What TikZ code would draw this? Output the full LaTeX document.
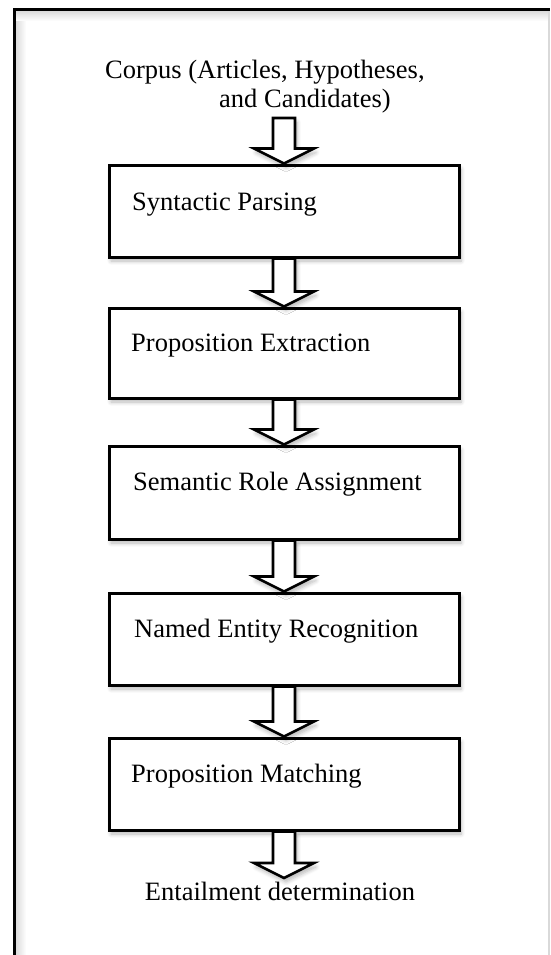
\documentclass[tikz,border=0pt]{standalone}
\usepackage{fontspec}
\setmainfont{Liberation Serif}
\usetikzlibrary{calc,shadows.blur}
\tikzset{
  softshadow/.style={blur shadow={shadow xshift=2pt, shadow yshift=-4pt, shadow opacity=28, shadow blur steps=6, shadow blur radius=4pt}},
  boxnode/.style={rectangle, draw=black, line width=3pt, fill=white, minimum width=350pt, inner sep=0pt, softshadow},
  steptext/.style={anchor=base west, inner sep=0pt, font=\fontsize{26.5}{29}\selectfont},
  blockarr/.style={draw=black, line width=2.6pt, fill=white, line join=miter, softshadow},
  frameline/.style={draw=black, line width=3.5pt},
}
\newcommand\blockarrow[2]{%
  \path[blockarr] let \p1=(#1), \p2=(#2) in
    (\x1-11pt,\y1) -- (\x1-11pt,\y2+15pt) -- (\x1-30pt,\y2+15pt) -- (\x1,\y2)
    -- (\x1+30pt,\y2+15pt) -- (\x1+11pt,\y2+15pt) -- (\x1+11pt,\y1) -- cycle;}
\begin{document}
\begin{tikzpicture}[x=1pt,y=-1pt]
\useasboundingbox (0,0) rectangle (550,955);
% outer frame
\shade[left color=black!14, right color=white] (16,11) rectangle (26,955);
\shade[top color=black!14, bottom color=white] (16,11) rectangle (548,21);
\draw[black!15, line width=2pt] (548.5,9.5) -- (548.5,955);
\draw[frameline] (14.5,955) -- (14.5,9.5) -- (550,9.5);

% input text (base anchor = baseline of the last line)
\node[steptext, align=left] (corpus) at (105,108)
  {Corpus (Articles, Hypotheses,\\\hspace*{114pt}and Candidates)};
\coordinate (cstart) at (284,118);

% boxes
\node[boxnode, minimum height=92pt] (b1) at (284,211) {};
\node[boxnode, minimum height=90pt] (b2) at (284,353) {};
\node[boxnode, minimum height=93pt] (b3) at (284,492.5) {};
\node[boxnode, minimum height=92pt] (b4) at (284,639) {};
\node[boxnode, minimum height=92pt] (b5) at (284,784) {};

\node[steptext] (t1) at (132,210) {Syntactic Parsing};
\node[steptext] (t2) at (131,351) {Proposition Extraction};
\node[steptext] (t3) at (133,490) {Semantic Role Assignment};
\node[steptext] (t4) at (134,637) {Named Entity Recognition};
\node[steptext] (t5) at (131,782) {Proposition Matching};

% output text
\node[steptext, anchor=base] (ent) at (280,900) {Entailment determination};
\coordinate (etip) at (284,878);

% block arrows
\blockarrow{cstart}{b1.north}
\blockarrow{b1.south}{b2.north}
\blockarrow{b2.south}{b3.north}
\blockarrow{b3.south}{b4.north}
\blockarrow{b4.south}{b5.north}
\blockarrow{b5.south}{etip}
\end{tikzpicture}
\end{document}
